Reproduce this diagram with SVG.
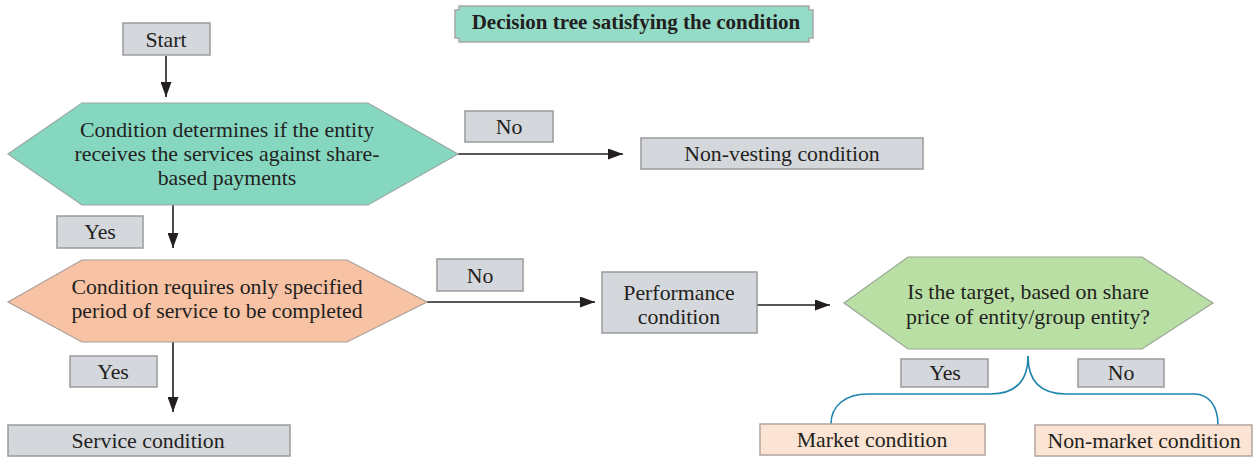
<svg xmlns="http://www.w3.org/2000/svg" width="1258" height="457" viewBox="0 0 1258 457">
<defs>
<marker id="ah" markerWidth="15" markerHeight="11" refX="15" refY="5.5" orient="auto" markerUnits="userSpaceOnUse">
<path d="M0,0 L15,5.5 L0,11 Z" fill="#231f20"/>
</marker>
<style>
text{font-family:"Liberation Serif","Times New Roman",serif;font-size:21.8px;fill:#231f20;text-anchor:middle}
.title{font-weight:bold;font-size:21px}
.gray{fill:#d4d7dc;stroke:#9b9b9b;stroke-width:1.5}
.peachbox{fill:#fce4d4;stroke:#b3a59e;stroke-width:1.5}
.conn{stroke:#231f20;stroke-width:1.6;fill:none}
.brace{stroke:#1d84ad;stroke-width:1.6;fill:none}
</style>
</defs>
<rect width="1258" height="457" fill="#ffffff"/>
<g id="title">
<path d="M459,6 H809 V10 H813 V38 H809 V42 H459 V38 H455 V10 H459 Z" fill="#94dcc7" stroke="#a8a8a8" stroke-width="1.5"/>
<text class="title" x="636" y="29">Decision tree satisfying the condition</text>
</g>
<g id="connectors">
<line class="conn" x1="166" y1="56" x2="166" y2="97" marker-end="url(#ah)"/>
<line class="conn" x1="458" y1="154" x2="623" y2="154" marker-end="url(#ah)"/>
<line class="conn" x1="173" y1="205" x2="173" y2="248" marker-end="url(#ah)"/>
<line class="conn" x1="427" y1="302" x2="595" y2="302" marker-end="url(#ah)"/>
<line class="conn" x1="757" y1="305" x2="830" y2="305" marker-end="url(#ah)"/>
<line class="conn" x1="173" y1="342" x2="173" y2="412" marker-end="url(#ah)"/>
<path class="brace" d="M1028,356 C1028,382 1015,394 990,394 L868,394 C845,394 831,406 831,424"/>
<path class="brace" d="M1028,356 C1028,382 1041,394 1066,394 L1194,394 C1209,394 1218,406 1218,425"/>
</g>
<g id="start">
<rect class="gray" x="123" y="23" width="87" height="32"/>
<text x="166" y="47">Start</text>
</g>
<g id="q1">
<polygon points="8,154 82,103 368,103 458,154 368,205 82,205" fill="#86d7c0" stroke="#9aa8a2" stroke-width="1.2"/>
<text x="227" y="137">Condition determines if the entity</text>
<text x="227" y="161">receives the services against share-</text>
<text x="227" y="185">based payments</text>
</g>
<g id="no1">
<rect class="gray" x="465" y="111" width="88" height="31"/>
<text x="509" y="134">No</text>
</g>
<g id="nonvesting">
<rect class="gray" x="641" y="138" width="282" height="31"/>
<text x="782" y="161">Non-vesting condition</text>
</g>
<g id="yes1">
<rect class="gray" x="57" y="216" width="86" height="32"/>
<text x="100" y="239">Yes</text>
</g>
<g id="q2">
<polygon points="8,302 82,260 347,260 427,302 347,342 82,342" fill="#f8c2a4" stroke="#a9a09a" stroke-width="1.2"/>
<text x="217" y="294">Condition requires only specified</text>
<text x="217" y="318">period of service to be completed</text>
</g>
<g id="no2">
<rect class="gray" x="437" y="259" width="86" height="32"/>
<text x="480" y="283">No</text>
</g>
<g id="performance">
<rect class="gray" x="602" y="272" width="155" height="61"/>
<text x="679" y="300">Performance</text>
<text x="679" y="324">condition</text>
</g>
<g id="q3">
<polygon points="844,303 908,257 1142,257 1213,303 1142,349 908,349" fill="#b9dfa5" stroke="#9aa596" stroke-width="1.2"/>
<text x="1028" y="299">Is the target, based on share</text>
<text x="1028" y="324">price of entity/group entity?</text>
</g>
<g id="yes2">
<rect class="gray" x="70" y="356" width="87" height="31"/>
<text x="113" y="379">Yes</text>
</g>
<g id="yes3">
<rect class="gray" x="901" y="359" width="87" height="28"/>
<text x="945" y="380">Yes</text>
</g>
<g id="no3">
<rect class="gray" x="1078" y="359" width="86" height="28"/>
<text x="1121" y="380">No</text>
</g>
<g id="service">
<rect class="gray" x="8" y="425" width="282" height="31"/>
<text x="148" y="448">Service condition</text>
</g>
<g id="market">
<rect class="peachbox" x="760" y="424" width="225" height="31"/>
<text x="872" y="447">Market condition</text>
</g>
<g id="nonmarket">
<rect class="peachbox" x="1035" y="425" width="217" height="31"/>
<text x="1144" y="448">Non-market condition</text>
</g>
</svg>
